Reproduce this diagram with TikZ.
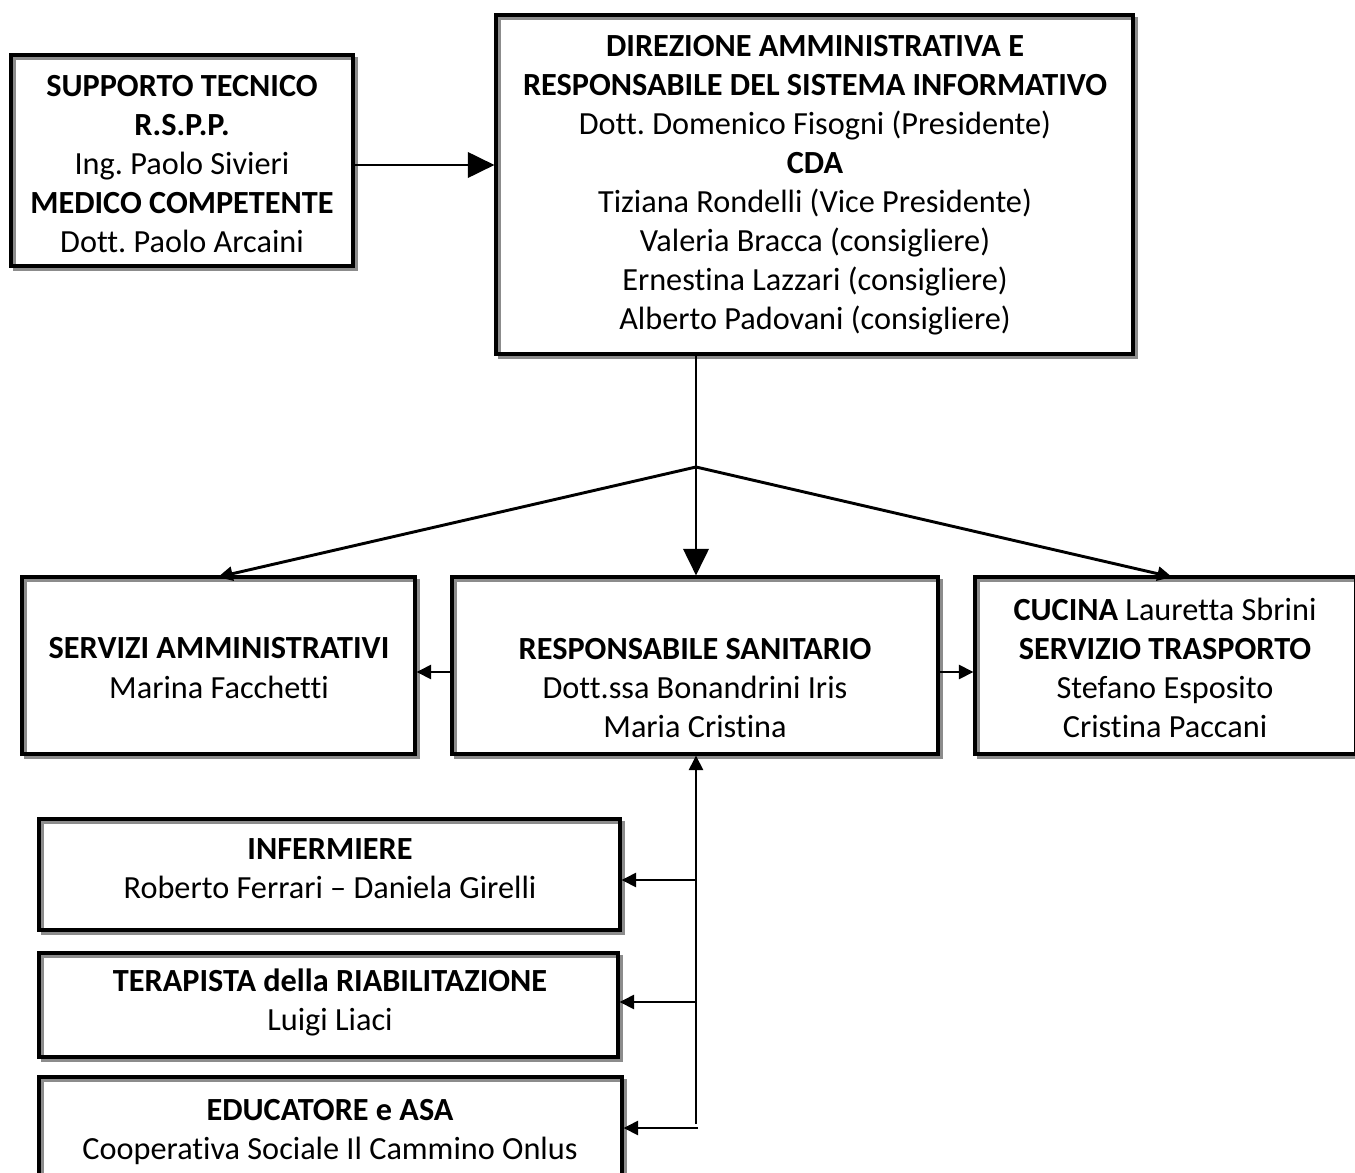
\documentclass[tikz,border=0pt]{standalone}
\usepackage{fontspec}
\setmainfont[Ligatures=NoCommon]{Carlito}
\usetikzlibrary{arrows.meta,calc}
\tikzset{
  box/.style={draw=black, line width=2.3pt, rectangle, inner sep=0pt},
  shad/.style={draw=black!45, line width=2pt},
  txt/.style={align=center, font=\fontsize{24.2}{29.3}\selectfont, inner sep=0pt},
  conn/.style={line width=2.2pt},
  bigtip/.style={-{Triangle[length=20pt,width=19pt]}},
  smalltip/.style={-{Triangle[length=11pt,width=10.5pt]}},
}
\newcommand{\obox}[5]{%
  \draw[shad] (#2+3.5,#3+3.5) rectangle (#4+3.5,#5+3.5);
  \node[box, minimum width={(#4-#2)*0.75pt}, minimum height={(#5-#3)*0.75pt}] (#1) at ({(#2+#4)/2},{(#3+#5)/2}) {};
}
\begin{document}
\frenchspacing
\begin{tikzpicture}[x=0.75pt,y=-0.75pt]
\useasboundingbox (0,0) rectangle (1355,1173);
\begin{scope}
\clip (0,0) rectangle (1355,1173);
% boxes
\obox{sup}{11}{55}{353}{266}
\obox{dir}{496}{15}{1133}{354}
\obox{sam}{22}{577}{415}{754}
\obox{rs}{452}{577}{938}{754}
\obox{cuc}{975}{577}{1356}{754}
\obox{inf}{39}{819}{620}{930}
\obox{ter}{39}{953}{618}{1057}
\obox{edu}{39}{1077}{622}{1200}
\end{scope}
% texts
\node[txt] (supt) at (182,164) {\textbf{SUPPORTO TECNICO}\\\textbf{R.S.P.P.}\\Ing. Paolo Sivieri\\\textbf{MEDICO COMPETENTE}\\Dott. Paolo Arcaini};
\node[txt] (dirt) at (815,185) {\textbf{DIREZIONE AMMINISTRATIVA E}\\\textbf{RESPONSABILE DEL SISTEMA INFORMATIVO}\\Dott. Domenico Fisogni (Presidente)\\\textbf{CDA}\\Tiziana Rondelli (Vice Presidente)\\Valeria Bracca (consigliere)\\Ernestina Lazzari (consigliere)\\Alberto Padovani (consigliere)};
\node[txt] (samt) at (219,668) {\textbf{SERVIZI AMMINISTRATIVI}\\Marina Facchetti};
\node[txt] (rst) at (695,688) {\textbf{RESPONSABILE SANITARIO}\\Dott.ssa Bonandrini Iris\\Maria Cristina};
\node[txt] (cuct) at (1165,668) {\textbf{CUCINA} Lauretta Sbrini\\\textbf{SERVIZIO TRASPORTO}\\Stefano Esposito\\Cristina Paccani};
\node[txt] (inft) at (330,869) {\textbf{INFERMIERE}\\Roberto Ferrari -- Daniela Girelli};
\node[txt] (tert) at (330,1002) {\textbf{TERAPISTA della RIABILITAZIONE}\\Luigi Liaci};
\node[txt] (edut) at (330,1132) {\textbf{EDUCATORE e ASA}\\Cooperativa Sociale Il Cammino Onlus};
% connectors
\draw[conn,bigtip] (sup.east |- 0,165) -- (dir.west |- 0,165);
\coordinate (j) at (696,467);
\draw[conn,bigtip] (dir.south -| j) -- (rs.north -| j);
\draw[conn,smalltip] (j) -- (218,577);
\draw[conn,smalltip] (j) -- (1172,577);
\draw[conn,smalltip] (rs.west |- 0,672) -- (sam.east |- 0,672);
\draw[conn,smalltip] (rs.east |- 0,672) -- (cuc.west |- 0,672);
\coordinate (vb) at (696,1124);
\draw[conn,smalltip] (vb) -- (rs.south -| vb);
\draw[conn,smalltip] (696,880) -- (inf.east |- 0,880);
\draw[conn,smalltip] (696,1002) -- (ter.east |- 0,1002);
\draw[conn,smalltip] (698,1128) -- (edu.east |- 0,1128);
\end{tikzpicture}
\end{document}
